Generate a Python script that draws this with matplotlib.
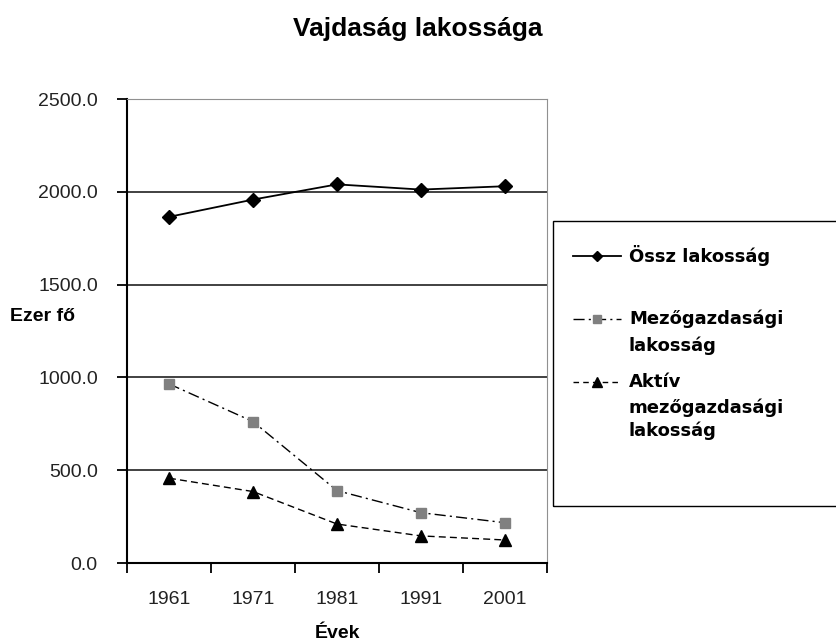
#!/usr/bin/env python3
# Vajdaság lakossága - vonaldiagram újrarajzolása
import numpy as np
import matplotlib
matplotlib.use('Agg')
import matplotlib.pyplot as plt
from matplotlib.lines import Line2D
from matplotlib.patches import Rectangle
from matplotlib.ticker import FormatStrFormatter

evek = ['1961', '1971', '1981', '1991', '2001']
ossz = [1865, 1958, 2040, 2012, 2030]
mezo = [965, 762, 390, 271, 217]
aktiv = [457, 385, 210, 146, 124]

plt.rcParams.update({
    'font.family': ['Liberation Sans', 'DejaVu Sans'],
    'font.size': 14,
})

W, H = 836, 642
fig = plt.figure(figsize=(W / 100, H / 100), dpi=100)
ax = fig.add_axes([127 / W, 1 - 563 / H, 420 / W, 464 / H])

x = np.arange(len(evek))
ax.plot(x, ossz, color='black', lw=1.3, marker='D', ms=7, mfc='black', mec='black')
ax.plot(x, mezo, color='black', lw=1.0, ls=(0, (8, 3, 1.5, 3)), marker='s', ms=7,
        mfc='#808080', mec='#808080')
ax.plot(x, aktiv, color='black', lw=1.0, ls=(0, (5, 3)), marker='^', ms=8,
        mfc='black', mec='black')

ax.set_xlim(-0.5, len(evek) - 0.5)
ax.set_ylim(0, 2500)
ax.set_yticks(np.arange(0, 2501, 500))
ax.yaxis.set_major_formatter(FormatStrFormatter('%.1f'))
for yv in [500, 1000, 1500, 2000]:
    ax.axhline(yv, color='#333333', lw=1.3, zorder=0)

ax.set_xticks(x)
ax.set_xticklabels(evek, color='#222222')
ax.set_xticks(np.arange(-0.5, len(evek)), minor=True)
ax.tick_params(axis='x', which='major', length=0, pad=20)
ax.tick_params(axis='x', which='minor', length=7, width=1.3, direction='out')
ax.tick_params(axis='y', length=7, width=1.3, direction='out', pad=14,
               labelcolor='#222222')

ax.spines['left'].set_linewidth(1.5)
ax.spines['bottom'].set_linewidth(1.5)
ax.spines['top'].set_color('#909090')
ax.spines['right'].set_color('#909090')

fig.text(418 / W, 1 - 29 / H, 'Vajdaság lakossága', ha='center', va='center',
         fontsize=19, fontweight='bold')
fig.text(10 / W, 1 - 316 / H, 'Ezer fő', ha='left', va='center',
         fontsize=14, fontweight='bold')
fig.text(337 / W, 1 - 634 / H, 'Évek', ha='center', va='center',
         fontsize=14, fontweight='bold')

# jelmagyarázat keret
fig.patches.append(Rectangle((553 / W, 1 - 506 / H), 300 / W, 285 / H,
                             transform=fig.transFigure, fill=False,
                             ec='black', lw=1.0))

def fy(p):
    return 1 - p / H

hx = [573 / W, 621 / W]
mx = 597 / W
stili = [
    dict(color='black', lw=1.3, ls='-', marker='D', mfc='black', mec='black', ms=5),
    dict(color='black', lw=1.0, ls=(0, (8, 3, 1.5, 3)), marker='s', mfc='#808080',
         mec='#808080', ms=6),
    dict(color='black', lw=1.0, ls=(0, (4, 3)), marker='^', mfc='black', mec='black', ms=7),
]
cimkek = [['Össz lakosság'],
          ['Mezőgazdasági', 'lakosság'],
          ['Aktív', 'mezőgazdasági', 'lakosság']]
sor_y = [[256], [319, 346], [382, 408, 431]]

for st, cs, ys in zip(stili, cimkek, sor_y):
    m = st.pop('marker'); mfc = st.pop('mfc'); mec = st.pop('mec'); ms = st.pop('ms')
    fig.add_artist(Line2D(hx, [fy(ys[0])] * 2, transform=fig.transFigure, **st))
    fig.add_artist(Line2D([mx], [fy(ys[0])], transform=fig.transFigure, marker=m,
                          mfc=mfc, mec=mec, ms=ms, ls='none'))
    for c, yy in zip(cs, ys):
        fig.text(629 / W, fy(yy), c, ha='left', va='center', fontsize=13,
                 fontweight='bold', family='DejaVu Sans')

fig.savefig('out.png', dpi=100)
